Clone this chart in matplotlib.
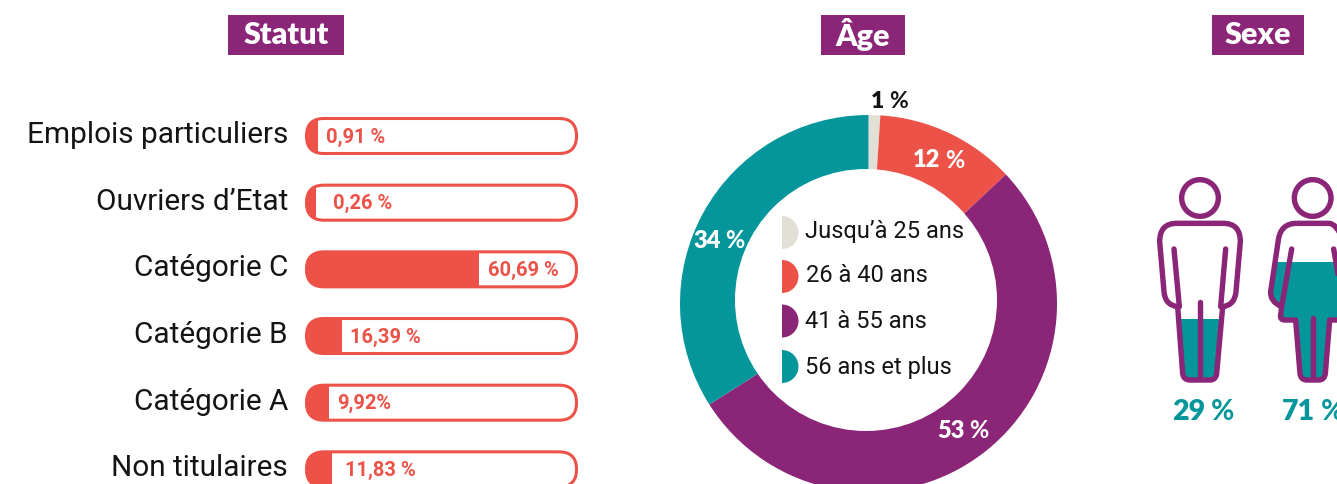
import matplotlib
matplotlib.use('Agg')
import matplotlib.pyplot as plt
from matplotlib.patches import FancyBboxPatch, PathPatch, Rectangle, Wedge, Circle
from matplotlib.path import Path
from matplotlib.transforms import Affine2D

# colors
coral = '#EC5247'
purple = '#8A2577'
teal = '#05969C'
grey = '#E2DFD6'
ink = '#141414'

label_font = 'Roboto'
title_font = 'Lato'

# data
statut_labels = ['Emplois particuliers', "Ouvriers d’Etat", 'Catégorie C', 'Catégorie B', 'Catégorie A', 'Non titulaires']
statut_texts = ['0,91 %', '0,26 %', '60,69 %', '16,39 %', '9,92%', '11,83 %']
# filled share of each pill, as drawn in the picture
statut_fill = [4.4, 3.7, 64.0, 13.3, 8.5, 9.6]

age_labels = ['Jusqu’à 25 ans', '26 à 40 ans', '41 à 55 ans', '56 ans et plus']
age_values = [1, 12, 53, 34]
age_colors = [grey, coral, purple, teal]

sexe_texts = ['29', '71']
sexe_fill = [30, 58]  # height of the teal level in the icons

fig = plt.figure(figsize=(13.37, 4.84), dpi=100)
ax = fig.add_axes([0, 0, 1, 1])


def pct(x, y, num, color, size):
    # bold number followed by a lighter percent sign
    t = ax.text(x, y, num, color=color, fontsize=size, fontweight='heavy', family=title_font, ha='left', va='center', zorder=6)
    box = t.get_window_extent(fig.canvas.get_renderer())
    ax.text(box.x1 + size * 0.3, y, '%', color=color, fontsize=size, fontweight='bold', family=title_font, ha='left', va='center', zorder=6)


def title(x0, x1, txt):
    ax.add_patch(Rectangle((x0, 15), x1 - x0, 40, color=purple, lw=0))
    ax.text((x0 + x1) / 2, 34.5, txt, color='white', fontsize=22, fontweight='heavy', family=title_font, ha='center', va='center')


# donut, the hole sits a little off centre in the original
ax.pie(age_values, colors=age_colors, center=(868.5, 303.5), radius=188.5, startangle=-90, counterclock=True,
       wedgeprops={'linewidth': 0})
ax.add_patch(Circle((866, 300), 131, fc='white', lw=0, zorder=2))
ax.set_xlim(0, 1337)
ax.set_ylim(484, 0)
ax.set_aspect('auto')
ax.axis('off')

title(228, 344, 'Statut')
title(821, 905, 'Âge')
title(1212, 1304, 'Sexe')

pct(871, 101, str(age_values[0]), ink, 16.5)
pct(913, 160, str(age_values[1]), 'white', 17)
pct(693, 241, str(age_values[3]), 'white', 17)
pct(937, 431, str(age_values[2]), 'white', 17)

# legend in the hole
legend_y = [232.5, 276.5, 321, 366.5]
legend_text_y = [231.5, 275.5, 322, 367.5]
legend_x = [805, 806, 805, 805]
for i in range(4):
    ax.add_patch(Wedge((782, legend_y[i]), 16.5, -90, 90, color=age_colors[i], lw=0, zorder=3))
    ax.text(legend_x[i], legend_text_y[i], age_labels[i], color=ink, fontsize=17, family=label_font, ha='left', va='center', zorder=3)

# statut bars get their own axes, x in percent
row_h = 66.67
first_y = 136
n = len(statut_labels)
top = first_y - row_h / 2
bottom = top + n * row_h
ax_bar = fig.add_axes([306 / 1337, (484 - bottom) / 484, 271 / 1337, (bottom - top) / 484])
ax_bar.set_xlim(0, 100)
ax_bar.set_ylim(n - 0.5, -0.5)
ax_bar.axis('off')
ax_bar.patch.set_alpha(0)

bars = ax_bar.barh(range(n), statut_fill, height=36 / row_h, color=coral, lw=0)
for i in range(n):
    py = first_y + i * row_h
    box = FancyBboxPatch((306.5, py - 17.5), 270, 35, boxstyle='round,pad=0,rounding_size=17.5')
    # flatten the curves, agg draws a stray arc when a curved path leaves the canvas
    poly = box.get_path().to_polygons(Affine2D().scale(8), closed_only=False)[0] / 8
    pill = PathPatch(Path(poly), fc='none', ec=coral, lw=2.2, transform=ax.transData, clip_on=False)
    ax_bar.add_patch(pill)
    bars[i].set_clip_path(pill)
    ax.text(288, py - 1, statut_labels[i], color=ink, fontsize=21.4, family=label_font, ha='right', va='center')

text_x = [326, 333, 488, 350, 337, 345]
for i in range(n):
    py = first_y + i * row_h
    ax.text(text_x[i], py + 1, statut_texts[i], color=coral, fontsize=14.5, fontweight='bold', family=label_font,
            ha='left', va='center', zorder=5)
ax.set_zorder(ax_bar.get_zorder() + 1)
ax.patch.set_alpha(0)

# icons, outlines written in crop coordinates
icon_tr = Affine2D().scale(1 / 3).translate(1130, 160) + ax.transData
M, L, Q, Z = Path.MOVETO, Path.LINETO, Path.CURVE3, Path.CLOSEPOLY
man = Path([(140, 190), (280, 190), (331, 190), (331, 245), (318, 395), (315, 435), (278, 440), (260, 640), (258, 660), (240, 660),
            (180, 660), (160, 660), (158, 640), (143, 440), (105, 435), (102, 395), (89, 245), (89, 190), (140, 190), (140, 190)],
           [M, L, Q, Q, L, Q, Q, L, Q, Q, L, Q, Q, L, Q, Q, L, Q, Q, Z])
woman = Path([(500, 190), (452, 190), (445, 240), (422, 395), (420, 425), (455, 440), (452, 465), (449, 480), (465, 480), (497, 480),
              (510, 640), (512, 660), (530, 660), (566, 660), (584, 660), (586, 640), (599, 480), (631, 480), (647, 480), (644, 465),
              (641, 440), (676, 425), (674, 395), (651, 240), (644, 190), (596, 190), (500, 190)],
             [M, Q, Q, L, Q, Q, L, Q, Q, L, L, Q, Q, L, Q, Q, L, L, Q, Q, L, Q, Q, L, Q, Q, Z])
icon_top = 52
icon_bot = 660
stroke = 3.9
for k, (shape, cx) in enumerate([(man, 210), (woman, 548)]):
    outline = PathPatch(shape, fc='none', ec=purple, lw=stroke, transform=icon_tr, joinstyle='round', zorder=4, clip_on=False)
    level = icon_bot - sexe_fill[k] / 100 * (icon_bot - icon_top)
    body = Rectangle((cx - 200, level), 400, icon_bot - level, fc=teal, lw=0, transform=icon_tr, zorder=3)
    ax.add_patch(body)
    ax.add_patch(outline)
    body.set_clip_path(outline)
    ax.add_patch(Circle((cx, 114), 55, fc='none', ec=purple, lw=stroke, transform=icon_tr, zorder=4))

inner_lines = [[(132, 267), (148, 440)], [(287, 267), (272, 440)], [(210, 425), (210, 655)],
               [(485, 267), (455, 440)], [(611, 267), (641, 440)], [(548, 475), (548, 655)]]
for (a, b) in inner_lines:
    ax.plot([a[0], b[0]], [a[1], b[1]], color=purple, lw=stroke, solid_capstyle='round', transform=icon_tr, zorder=4)

pct(1172, 411.5, sexe_texts[0], teal, 20.5)
pct(1282, 411.5, sexe_texts[1], teal, 20.5)

fig.savefig('out.png', dpi=100)
